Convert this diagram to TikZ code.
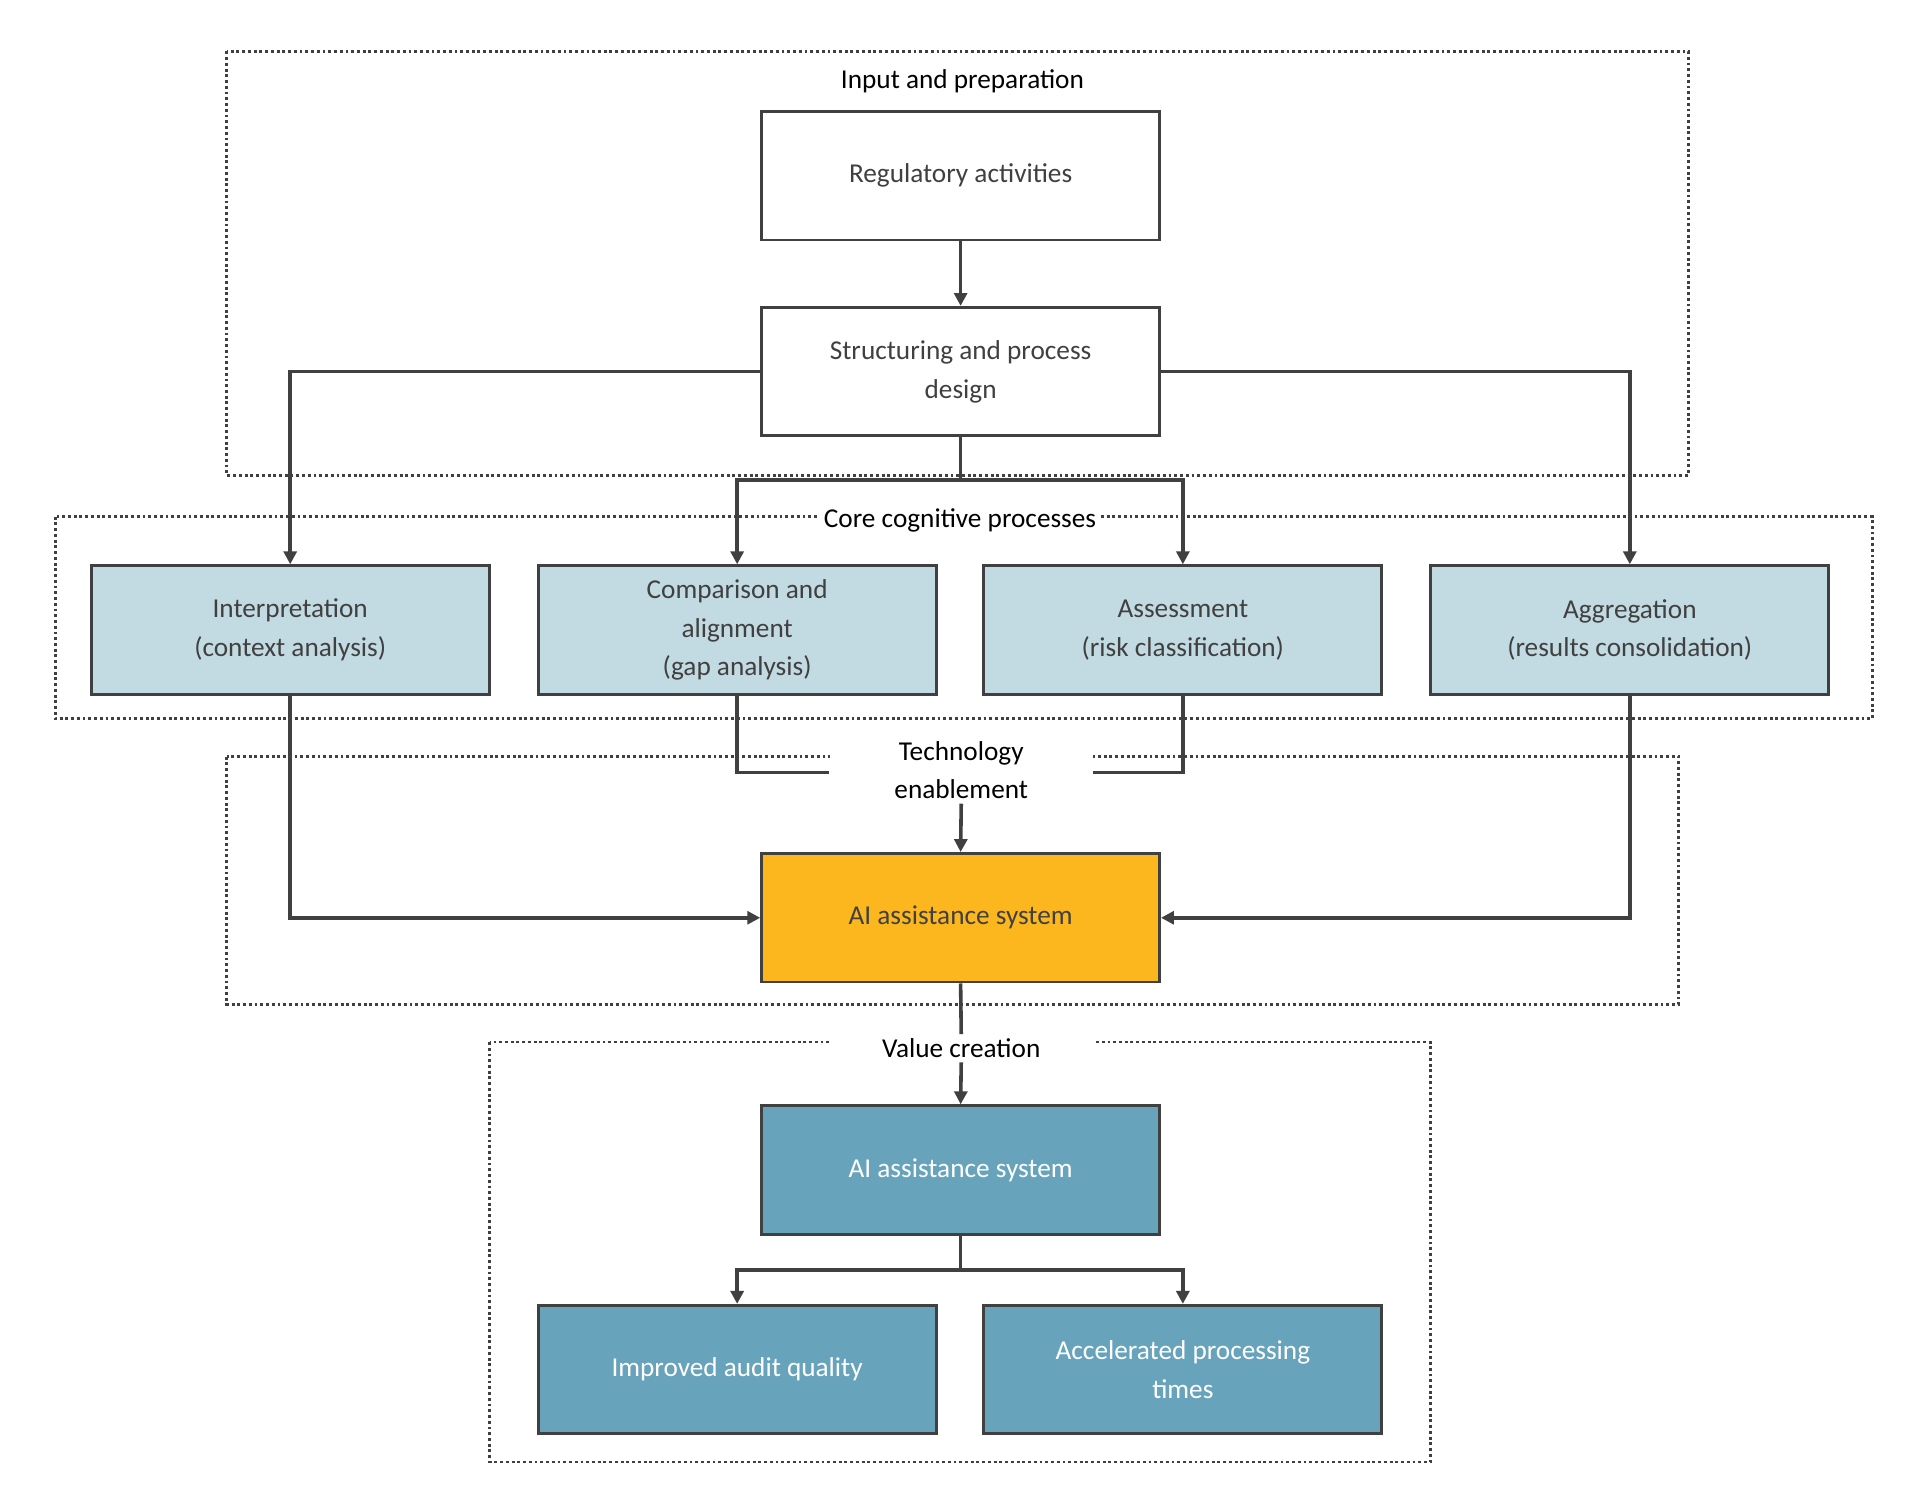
\documentclass[tikz,border=0pt]{standalone}
\usepackage{fontspec}
\setmainfont{Carlito}
\usetikzlibrary{arrows.meta}
\definecolor{ln}{HTML}{404040}
\definecolor{lb}{HTML}{C2DAE1}
\definecolor{org}{HTML}{FDB71E}
\definecolor{tl}{HTML}{68A3BC}
\begin{document}
\begin{tikzpicture}[x=0.03cm,y=-0.03cm,
 bx/.style={draw=ln,line width=2pt,minimum width=325*0.03cm,minimum height=105*0.03cm,align=center,text=ln,font=\fontsize{19}{27}\selectfont,inner sep=0pt},
 grp/.style={draw=ln,line width=2pt,dotted},
 ttl/.style={fill=white,align=center,font=\fontsize{19}{27}\selectfont,inner sep=3pt},
 ar/.style={draw=ln,line width=2.5pt,-{Triangle[length=9pt,width=9pt]}},
 pl/.style={draw=ln,line width=2.5pt}]
\useasboundingbox[fill=white] (0,0) rectangle (1568,1231);
\draw[grp] (185,42) rectangle (1379,388);
\draw[grp] (45,422) rectangle (1529,587);
\draw[grp] (185,618) rectangle (1371,820);
\draw[grp] (400,851) rectangle (1168,1194);
\node[ttl] (t1) at (786,66) {Input and preparation};
\node[bx] (reg) at (784.5,143.5) {Regulatory activities};
\node[bx] (str) at (784.5,303.5) {Structuring and process\\design};
\node[ttl] (t2) at (784,425) {Core cognitive processes};
\node[bx,fill=lb] (int) at (237,514.5) {Interpretation\\(context analysis)};
\node[bx,fill=lb] (cmp) at (602,514.5) {Comparison and\\alignment\\(gap analysis)};
\node[bx,fill=lb] (ass) at (966,514.5) {Assessment\\(risk classification)};
\node[bx,fill=lb] (agg) at (1331,514.5) {Aggregation\\(results consolidation)};
\node[ttl,minimum width=215*0.03cm] (t3) at (785,629) {Technology\\enablement};
\node[bx,fill=org] (ai) at (784.5,749.5) {AI assistance system};
\node[ttl,minimum width=215*0.03cm] (t4) at (785,856) {Value creation};
\node[bx,fill=tl,text=white] (ai2) at (784.5,955.5) {AI assistance system};
\node[bx,fill=tl,text=white] (iaq) at (602,1118.5) {Improved audit quality};
\node[bx,fill=tl,text=white] (apt) at (966,1118.5) {Accelerated processing\\times};
\draw[ar] (reg) -- (str);
\draw[ar] (str.west) -| (int.north);
\draw[ar] (str.east) -| (agg.north);
\coordinate (s1) at (784.5,392);
\draw[pl] (str.south) -- (s1);
\draw[ar] (s1) -| (cmp.north);
\draw[ar] (s1) -| (ass.north);
\draw[pl] (cmp.south) |- (t3.west|-0,631);
\draw[pl] (ass.south) |- (t3.east|-0,631);
\draw[ar] (t3.south) -- (ai.north);
\draw[ar] (int.south) |- (ai.west);
\draw[ar] (agg.south) |- (ai.east);
\draw[pl] (ai.south) -- (t4.north);
\draw[ar] (t4.south) -- (ai2.north);
\coordinate (s2) at (784.5,1037);
\draw[pl] (ai2.south) -- (s2);
\draw[ar] (s2) -| (iaq.north);
\draw[ar] (s2) -| (apt.north);
\end{tikzpicture}
\end{document}
